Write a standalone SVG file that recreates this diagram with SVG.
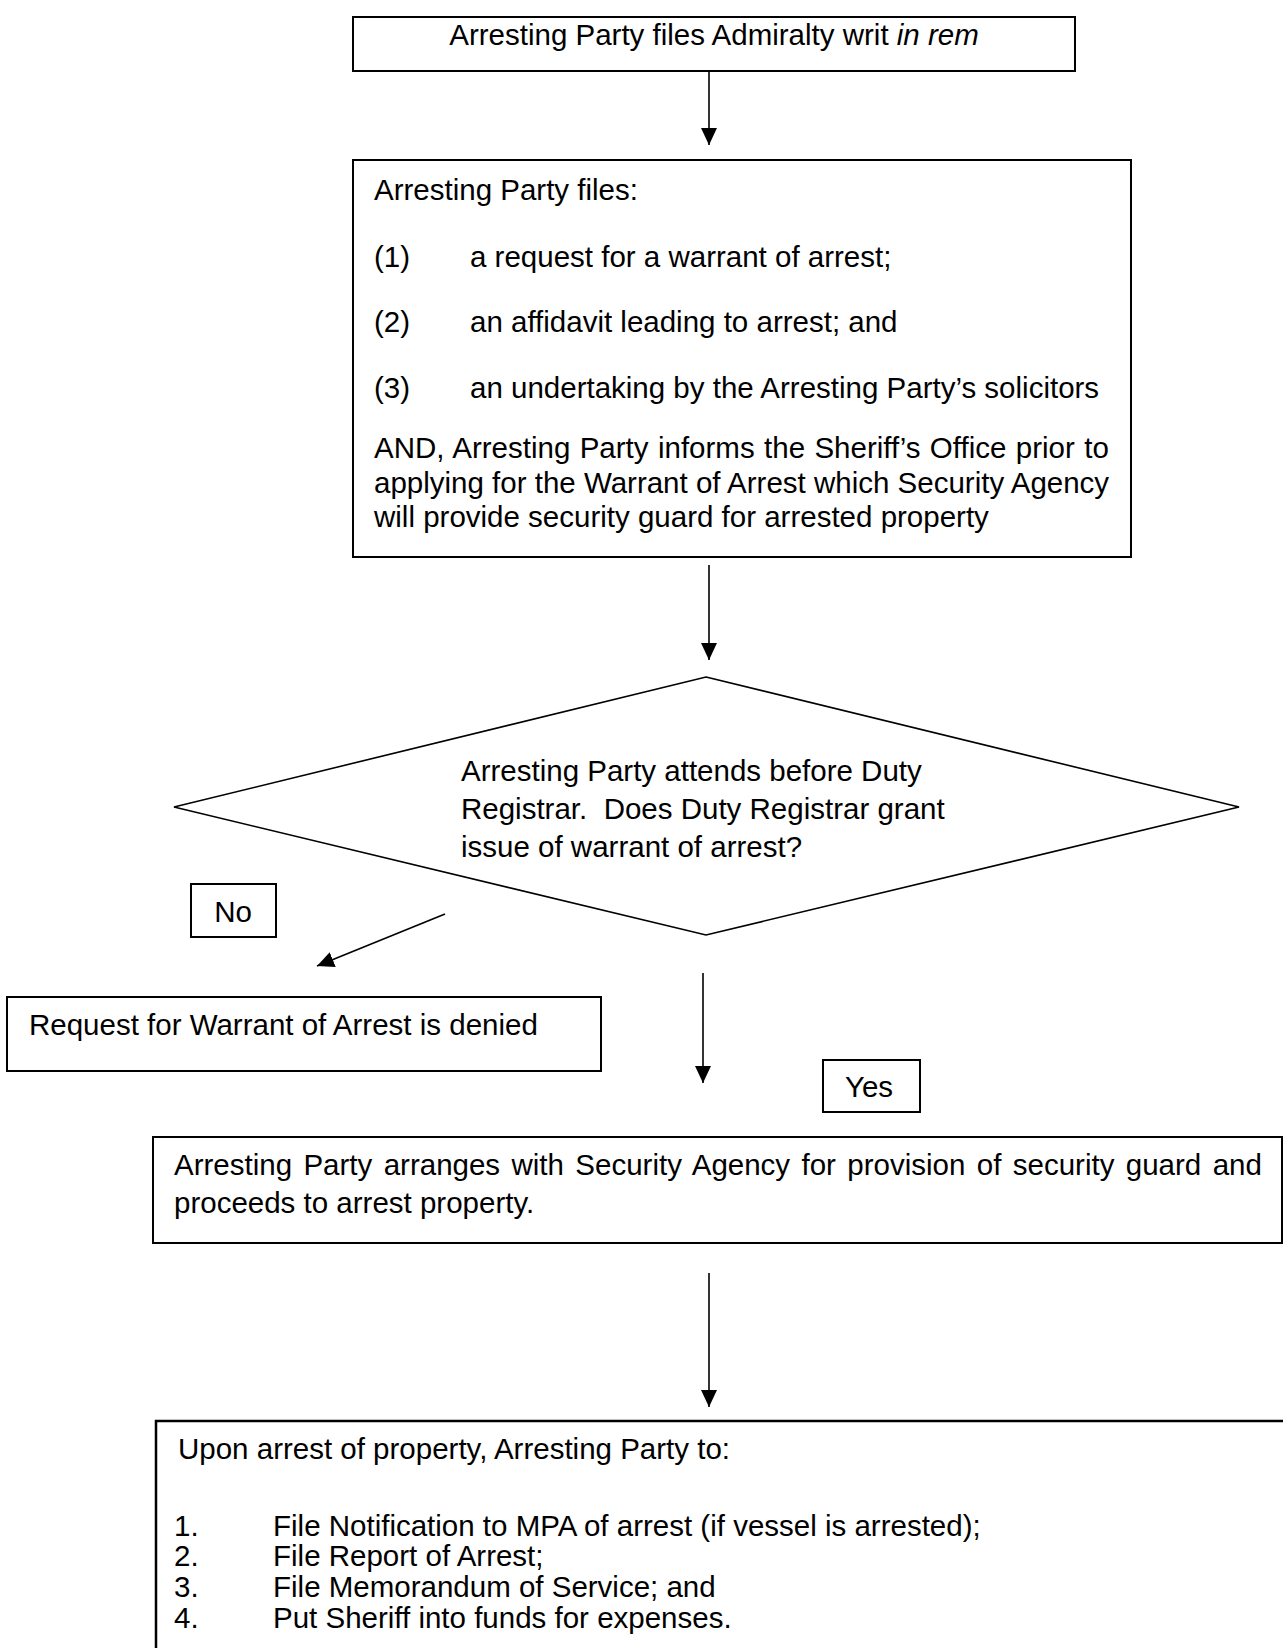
<svg xmlns="http://www.w3.org/2000/svg" width="1283" height="1648" viewBox="0 0 1283 1648">
<style>
  .box { fill: #ffffff; stroke: #000000; stroke-width: 2; }
  .dia { fill: #ffffff; stroke: #000000; stroke-width: 1.6; }
  .t { font-family: "Liberation Sans", Arial, sans-serif; font-size: 29.5px; fill: #000000; }
  .conn { stroke: #000000; stroke-width: 1.6; fill: none; marker-end: url(#arrow); }
</style>
<defs>
  <marker id="arrow" markerUnits="userSpaceOnUse" markerWidth="18" markerHeight="18" refX="17" refY="8" orient="auto">
    <path d="M0,0 L17,8 L0,16 z" fill="#000000"/>
  </marker>
</defs>
<rect width="1283" height="1648" fill="#ffffff"/>

<g id="connectors">
  <line class="conn" x1="709" y1="71" x2="709" y2="145"/>
  <line class="conn" x1="709" y1="565" x2="709" y2="660"/>
  <line class="conn" x1="445" y1="914" x2="317" y2="966"/>
  <line class="conn" x1="703" y1="973" x2="703" y2="1083"/>
  <line class="conn" x1="709" y1="1273" x2="709" y2="1407"/>
</g>

<g id="node-writ">
  <rect class="box" x="353" y="17" width="722" height="54"/>
  <text class="t" x="714" y="45" text-anchor="middle">Arresting Party files Admiralty writ <tspan font-style="italic">in rem</tspan></text>
</g>

<g id="node-files">
  <rect class="box" x="353" y="160" width="778" height="397"/>
  <text class="t" x="374" y="200">Arresting Party files:</text>
  <text class="t" x="374" y="267">(1)</text>
  <text class="t" x="470" y="267">a request for a warrant of arrest;</text>
  <text class="t" x="374" y="332">(2)</text>
  <text class="t" x="470" y="332">an affidavit leading to arrest; and</text>
  <text class="t" x="374" y="398">(3)</text>
  <text class="t" x="470" y="398">an undertaking by the Arresting Party’s solicitors</text>
  <text class="t" x="374" y="458" word-spacing="1.2">AND, Arresting Party informs the Sheriff’s Office prior to</text>
  <text class="t" x="374" y="493">applying for the Warrant of Arrest which Security Agency</text>
  <text class="t" x="374" y="527">will provide security guard for arrested property</text>
</g>

<g id="node-decision">
  <polygon class="dia" points="706,677 1239,807 706,935 174,807"/>
  <text class="t" x="461" y="781">Arresting Party attends before Duty</text>
  <text class="t" x="461" y="819">Registrar.&#160; Does Duty Registrar grant</text>
  <text class="t" x="461" y="857">issue of warrant of arrest?</text>
</g>

<g id="label-no">
  <rect class="box" x="191" y="884" width="85" height="53"/>
  <text class="t" x="233" y="922" text-anchor="middle">No</text>
</g>

<g id="node-denied">
  <rect class="box" x="7" y="997" width="594" height="74"/>
  <text class="t" x="29" y="1035">Request for Warrant of Arrest is denied</text>
</g>

<g id="label-yes">
  <rect class="box" x="823" y="1060" width="97" height="52"/>
  <text class="t" x="869" y="1097" text-anchor="middle">Yes</text>
</g>

<g id="node-arrange">
  <rect class="box" x="153" y="1137" width="1129" height="106"/>
  <text class="t" x="174" y="1175" word-spacing="3.2">Arresting Party arranges with Security Agency for provision of security guard and</text>
  <text class="t" x="174" y="1213">proceeds to arrest property.</text>
</g>

<g id="node-upon">
  <path class="box" d="M156,1652 V1421 H1290" style="stroke-width:2.5"/>
  <text class="t" x="178" y="1459">Upon arrest of property, Arresting Party to:</text>
  <text class="t" x="174" y="1536">1.</text>
  <text class="t" x="273" y="1536">File Notification to MPA of arrest (if vessel is arrested);</text>
  <text class="t" x="174" y="1566">2.</text>
  <text class="t" x="273" y="1566">File Report of Arrest;</text>
  <text class="t" x="174" y="1597">3.</text>
  <text class="t" x="273" y="1597">File Memorandum of Service; and</text>
  <text class="t" x="174" y="1628">4.</text>
  <text class="t" x="273" y="1628">Put Sheriff into funds for expenses.</text>
</g>
</svg>
